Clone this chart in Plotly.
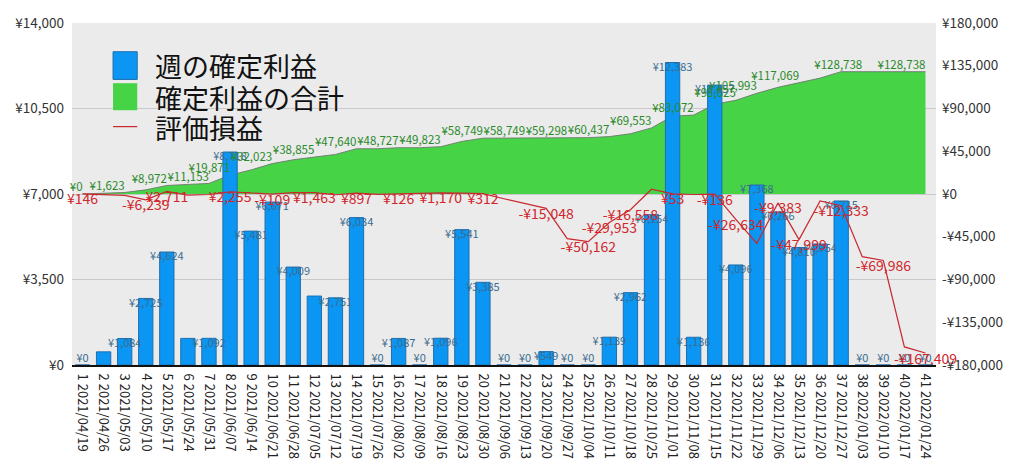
import plotly.graph_objects as go

# ---------------- data ----------------
weeks = ["1 2021/04/19", "2 2021/04/26", "3 2021/05/03", "4 2021/05/10", "5 2021/05/17",
         "6 2021/05/24", "7 2021/05/31", "8 2021/06/07", "9 2021/06/14", "10 2021/06/21",
         "11 2021/06/28", "12 2021/07/05", "13 2021/07/12", "14 2021/07/19", "15 2021/07/26",
         "16 2021/08/02", "17 2021/08/09", "18 2021/08/16", "19 2021/08/23", "20 2021/08/30",
         "21 2021/09/06", "22 2021/09/13", "23 2021/09/20", "24 2021/09/27", "25 2021/10/04",
         "26 2021/10/11", "27 2021/10/18", "28 2021/10/25", "29 2021/11/01", "30 2021/11/08",
         "31 2021/11/15", "32 2021/11/22", "33 2021/11/29", "34 2021/12/06", "35 2021/12/13",
         "36 2021/12/20", "37 2021/12/27", "38 2022/01/03", "39 2022/01/10", "40 2022/01/17",
         "41 2022/01/24"]

weekly_profit = [0, 539, 1084, 2725, 4624, 1089, 1092, 8718, 5481, 6671,
                 4009, 2823, 2751, 6034, 0, 1087, 0, 1096, 5541, 3385,
                 0, 0, 549, 0, 0, 1139, 2962, 6154, 12383, 1136,
                 11457, 4096, 7368, 6266, 4810, 4954, 6715, 0, 0, 0, 0]

cumulative_profit = [0, 539, 1623, 4348, 8972, 10061, 11153, 19871, 25352, 32023,
                     36032, 38855, 41606, 47640, 47640, 48727, 48727, 49823, 55364, 58749,
                     58749, 58749, 59298, 59298, 59298, 60437, 63399, 69553, 81936, 83072,
                     94529, 98625, 105993, 112259, 117069, 122023, 128738, 128738, 128738, 128738,
                     128738]

unrealized_pl = [146, -500, -1500, -6239, 2711, -1200, -500, 2255, 800, -109,
                 1500, 1463, -800, 897, -300, 126, 900, 1170, 900, 312,
                 -5000, -10000, -15048, -47000, -50162, -29953, -16558, 5000, 53, -500,
                 -136, -26634, -52000, -9383, -47999, -7300, -12333, -66000, -69986, -161000,
                 -167409]

# which data labels are visible in the original (1-based week numbers)
bar_label_hidden_weeks = [2, 6, 12]
cum_label_weeks = [1, 3, 5, 7, 8, 10, 12, 14, 16, 18, 20, 22, 24, 26, 28, 30, 32, 33, 35, 38, 41]
pl_label_weeks = [1, 4, 5, 8, 10, 12, 14, 16, 18, 20, 23, 25, 26, 27, 29, 31, 32, 34, 35, 37, 39, 41]

left_ticks = [0, 3500, 7000, 10500, 14000]
right_ticks = [-180000, -135000, -90000, -45000, 0, 45000, 90000, 135000, 180000]

legend_names = ["週の確定利益", "確定利益の合計", "評価損益"]


def yen(v):
    return ("-¥{:,}" if v < 0 else "¥{:,}").format(abs(v))


FONT = "Noto Sans CJK JP, sans-serif"
BAR_FILL = "#0A96F2"
BAR_EDGE = "#1F6FB0"
AREA_FILL = "#46D446"
RED = "#C8282E"

fig = go.Figure()

# area: cumulative realised profit (main y axis, right side)
fig.add_trace(go.Scatter(
    x=weeks, y=cumulative_profit, mode="lines", fill="tozeroy",
    fillcolor=AREA_FILL, line=dict(color="rgba(110,120,110,0.9)", width=1),
    yaxis="y", showlegend=False, hoverinfo="skip"))

# bars: weekly realised profit (left axis)
fig.add_trace(go.Bar(
    x=weeks, y=weekly_profit, marker=dict(color=BAR_FILL, line=dict(color=BAR_EDGE, width=1)),
    width=0.68, yaxis="y2", showlegend=False, hoverinfo="skip"))

bar_text = ["" if (i + 1) in bar_label_hidden_weeks else yen(v) for i, v in enumerate(weekly_profit)]
bar_pos = ["top center" if v == 0 else "bottom center" for v in weekly_profit]
fig.add_trace(go.Scatter(
    x=weeks, y=weekly_profit, mode="text", text=bar_text, textposition=bar_pos,
    textfont=dict(family=FONT, size=11, color="#3A6C90"),
    yaxis="y2", showlegend=False, hoverinfo="skip", cliponaxis=False))

# red line: unrealised P/L
fig.add_trace(go.Scatter(
    x=weeks, y=unrealized_pl, mode="lines", line=dict(color=RED, width=1.2),
    yaxis="y3", showlegend=False, hoverinfo="skip"))

# cumulative labels
fig.add_trace(go.Scatter(
    x=[weeks[w - 1] for w in cum_label_weeks],
    y=[cumulative_profit[w - 1] for w in cum_label_weeks],
    mode="text", text=[yen(cumulative_profit[w - 1]) for w in cum_label_weeks],
    textposition="top left", textfont=dict(family=FONT, size=11.5, color="#2A8A2A"),
    yaxis="y3", showlegend=False, hoverinfo="skip", cliponaxis=False))

# unrealised P/L labels
fig.add_trace(go.Scatter(
    x=[weeks[w - 1] for w in pl_label_weeks],
    y=[unrealized_pl[w - 1] for w in pl_label_weeks],
    mode="text", text=[yen(unrealized_pl[w - 1]) for w in pl_label_weeks],
    textposition="bottom center", textfont=dict(family=FONT, size=14, color="#D0262C"),
    yaxis="y3", showlegend=False, hoverinfo="skip", cliponaxis=False))

# ---- custom legend (large symbols) ----
shapes = [
    dict(type="rect", xref="paper", yref="paper", x0=0.0475, x1=0.0755, y0=0.835, y1=0.916,
         fillcolor=BAR_FILL, line=dict(color=BAR_EDGE, width=1)),
    dict(type="rect", xref="paper", yref="paper", x0=0.0475, x1=0.0755, y0=0.745, y1=0.824,
         fillcolor=AREA_FILL, line=dict(width=0)),
    dict(type="line", xref="paper", yref="paper", x0=0.0475, x1=0.0755, y0=0.697, y1=0.697,
         line=dict(color=RED, width=1.2)),
]
annotations = []
for name, yy in zip(legend_names, [0.876, 0.783, 0.693]):
    annotations.append(dict(xref="paper", yref="paper", x=0.094, y=yy, xanchor="left",
                            yanchor="middle", text=name, showarrow=False,
                            font=dict(family=FONT, size=27, color="#111111")))

fig.update_layout(
    width=1024, height=472, autosize=False,
    margin=dict(l=72, r=88, t=19, b=107),
    paper_bgcolor="white", plot_bgcolor="#EBEBEB",
    font=dict(family=FONT, size=13, color="#333333"),
    bargap=0.32,
    xaxis=dict(type="category", tickangle=90, tickfont=dict(size=13, color="#222222"),
               showline=True, linecolor="#111111", linewidth=2, showgrid=False,
               ticks="", range=[-0.5, 40.5], ticklabelstandoff=4),
    yaxis=dict(side="right", range=[-180000, 180000], tickvals=right_ticks,
               ticktext=[yen(v) for v in right_ticks], showgrid=False, zeroline=False,
               tickfont=dict(size=13.5, color="#333333"), ticklabelstandoff=5),
    yaxis2=dict(overlaying="y", side="left", range=[0, 14000], tickvals=left_ticks,
                ticktext=[yen(v) for v in left_ticks], showgrid=True, gridcolor="#C9C9C9",
                gridwidth=1, zeroline=False, tickfont=dict(size=13.5, color="#333333"),
                ticklabelstandoff=7),
    yaxis3=dict(overlaying="y", range=[-180000, 180000], visible=False),
    shapes=shapes, annotations=annotations,
)

fig.write_html("out.html")
